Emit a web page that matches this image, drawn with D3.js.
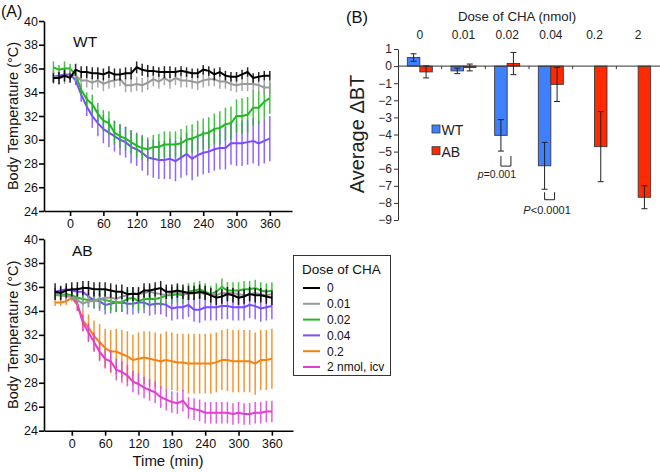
<!DOCTYPE html>
<html><head><meta charset="utf-8">
<script src="https://cdn.jsdelivr.net/npm/d3@7"></script>
<style>
body{margin:0;background:#fff;}
svg{display:block;font-family:"Liberation Sans",Arial,Helvetica,sans-serif;}
</style></head>
<body><svg id="c" width="660" height="472"></svg>
<script>
// ---------------- DATA ----------------
const times = [-30,-20,-10,0,10,20,30,40,50,60,70,80,90,100,110,120,130,140,150,160,170,180,190,200,210,220,230,240,250,260,270,280,290,300,310,320,330,340,350,360];
const doses = ["0","0.01","0.02","0.04","0.2","2 nmol, icv"];
const doseColors = ["#000000","#999999","#22b822","#7a4cff","#f5820f","#e03ed2"];
const xTicks = [0,60,120,180,240,300,360];
const yTicks = [24,26,28,30,32,34,36,38,40];

// WT panel
const wt_0   = [35.2,35.2,35.4,35.2, 35.9,35.7,35.7,35.6,35.6,35.5,35.7,35.5,35.5,35.6, 35.6,36.1,35.9,35.8,35.8,35.7,35.7,35.7,35.7,35.8, 35.7,35.6,35.6,35.9,35.8,35.5,35.7,35.4,35.3,35.3, 35.5,35.7,35.2,35.3,35.4,35.4];
const wt_0e  = [0.4,0.5,0.5,0.4, 0.5,0.5,0.5,0.5,0.5,0.5,0.5,0.5,0.5,0.5, 0.5,0.5,0.5,0.5,0.4,0.4,0.5,0.5,0.4,0.4, 0.4,0.4,0.4,0.4,0.4,0.5,0.4,0.4,0.4,0.4, 0.4,0.4,0.4,0.4,0.4,0.4];
const wt_001 = [35.3,35.2,35.3,35.5, 35.4,35.0,35.0,34.8,35.0,34.7,34.9,35.0,35.1,34.6, 34.6,34.7,34.6,34.8,35.1,34.9,35.2,34.9,35.2,35.0, 35.0,34.9,34.8,35.0,35.1,35.1,34.9,34.9,34.7,34.6, 34.7,34.7,34.7,34.6,34.4,34.4];
const wt_001e= [0.6,0.6,0.6,0.5, 0.5,0.6,0.6,0.6,0.6,0.6,0.6,0.6,0.6,0.6, 0.6,0.6,0.6,0.6,0.6,0.6,0.6,0.6,0.6,0.6, 0.6,0.6,0.6,0.6,0.6,0.6,0.6,0.6,0.6,0.6, 0.6,0.6,0.6,0.6,0.6,0.6];
const wt_002 = [36.1,35.9,36.0,36.0, 35.5,34.2,33.4,33.0,32.2,31.6,31.4,30.6,30.3,30.1, 29.8,29.5,29.3,29.2,29.4,29.4,29.6,29.6,29.6,29.7, 30.0,30.1,30.3,30.5,30.6,30.9,31.0,31.3,31.4,32.0, 32.0,32.1,32.7,32.7,33.2,33.5];
const wt_002e= [0.5,0.4,0.6,0.4, 0.4,0.5,0.6,0.8,0.9,0.9,1.0,1.0,1.0,1.0, 1.0,1.0,1.0,1.0,1.0,1.1,1.1,1.1,1.1,1.2, 1.2,1.2,1.3,1.3,1.3,1.3,1.4,1.4,1.4,1.4, 1.5,1.5,1.5,1.4,1.4,1.3];
const wt_004 = [35.3,35.4,35.5,35.5, 35.0,33.8,32.8,32.0,31.4,30.9,30.6,30.3,30.0,29.8, 29.4,29.2,28.9,28.5,28.4,28.3,28.3,28.4,28.2,28.5, 28.8,28.4,28.7,28.9,29.0,29.2,29.3,29.3,29.7,29.7, 29.7,29.8,29.9,29.7,29.9,30.1];
const wt_004e= [0.4,0.3,0.3,0.3, 0.4,0.6,0.8,1.0,1.1,1.2,1.2,1.3,1.3,1.3, 1.4,1.4,1.5,1.5,1.6,1.6,1.6,1.7,1.7,1.7, 1.8,1.8,1.8,1.8,1.8,1.8,1.8,1.8,1.8,1.9, 1.9,1.9,1.9,1.9,1.9,1.9];

// AB panel
const ab_0   = [35.6,35.5,35.7,35.8, 35.8,35.9,35.9,35.8,35.8,35.8,35.7,35.6,35.6,35.4, 35.4,35.4,35.7,35.7,35.8,35.9,35.6,35.6,35.7,35.6, 35.5,35.5,35.6,35.5,35.3,35.1,35.2,35.4,35.3,35.1, 35.2,35.4,35.3,35.3,35.2,35.1];
const ab_0e  = [0.7,0.6,0.6,0.6, 0.6,0.6,0.6,0.6,0.6,0.6,0.6,0.6,0.6,0.6, 0.6,0.6,0.6,0.6,0.6,0.6,0.6,0.6,0.6,0.6, 0.6,0.6,0.6,0.6,0.6,0.6,0.6,0.6,0.6,0.6, 0.6,0.6,0.6,0.6,0.6,0.6];
const ab_001 = [35.4,35.3,35.2,35.2, 34.9,34.6,34.8,34.8,35.0,35.1,35.1,35.0,35.2,35.3, 35.5,35.4,35.5,35.6,35.5,35.4,35.3,35.5,35.6,35.4, 35.4,35.5,35.5,35.4,35.4,35.3,35.5,35.5,35.5,35.4, 35.3,35.4,35.5,35.4,35.3,35.4];
const ab_001e= [0.4,0.4,0.4,0.4, 0.5,0.5,0.5,0.5,0.6,0.5,0.5,0.5,0.5,0.5, 0.5,0.5,0.5,0.5,0.5,0.5,0.5,0.5,0.5,0.5, 0.5,0.5,0.5,0.5,0.5,0.5,0.5,0.5,0.5,0.5, 0.5,0.5,0.5,0.5,0.5,0.5];
const ab_002 = [35.3,35.3,35.4,35.3, 35.1,35.0,34.9,34.9,35.0,34.9,34.8,34.7,34.7,35.0, 35.1,34.8,35.0,35.0,35.0,35.1,35.3,35.3,35.4,35.3, 35.6,35.7,35.8,35.6,35.4,35.6,36.0,35.7,35.7,35.7, 35.8,35.8,35.9,35.7,35.6,35.7];
const ab_002e= [0.3,0.3,0.3,0.3, 0.4,0.5,0.6,0.7,0.8,0.8,0.8,0.8,0.8,0.8, 0.8,0.8,0.8,0.7,0.7,0.7,0.7,0.7,0.7,0.7, 0.7,0.7,0.7,0.7,0.7,0.7,0.7,0.7,0.7,0.7, 0.7,0.7,0.7,0.7,0.7,0.7];
const ab_004 = [35.6,35.7,35.8,35.7, 35.6,35.6,35.2,34.9,34.8,34.5,34.6,34.7,34.7,34.6, 34.6,34.7,34.7,34.5,34.6,34.6,34.5,34.2,34.3,34.3, 34.5,34.1,34.1,34.3,34.3,34.3,34.4,34.4,34.3,34.3, 34.3,34.5,34.4,34.2,34.3,34.4];
const ab_004e= [0.3,0.3,0.3,0.3, 0.4,0.5,0.6,0.7,0.8,0.8,0.8,0.8,0.8,0.9, 0.9,0.9,0.9,0.9,0.9,0.9,1.0,1.0,1.0,1.0, 1.0,1.0,1.1,1.1,1.1,1.1,1.1,1.1,1.1,1.1, 1.1,1.1,1.1,1.1,1.1,1.1];
const ab_02  = [34.7,34.7,34.8,35.1, 34.5,33.2,32.6,31.9,31.4,30.9,30.6,30.6,30.4,30.2, 29.9,30.0,30.1,30.0,29.9,29.8,29.9,29.8,29.7,29.7, 29.6,29.6,29.6,29.6,29.6,29.7,29.9,29.9,29.8,29.8, 29.8,29.8,29.6,29.9,29.9,30.0];
const ab_02e = [0.3,0.3,0.3,0.2, 0.5,0.9,1.1,1.3,1.5,1.6,1.8,1.9,2.0,2.1, 2.1,2.2,2.2,2.3,2.3,2.3,2.4,2.4,2.4,2.4, 2.5,2.5,2.5,2.5,2.5,2.5,2.5,2.6,2.6,2.6, 2.6,2.6,2.6,2.5,2.5,2.5];
const ab_2   = [35.5,35.3,35.3,35.3, 34.6,33.0,32.2,31.4,30.6,30.0,29.8,29.1,28.9,28.6, 28.1,27.9,27.6,27.4,27.2,26.8,26.6,26.4,26.3,26.5, 25.9,25.8,25.7,25.5,25.5,25.5,25.5,25.5,25.4,25.5, 25.4,25.4,25.5,25.5,25.6,25.6];
const ab_2e  = [0.3,0.3,0.3,0.3, 0.6,0.7,0.8,0.8,0.8,0.8,0.9,0.9,0.9,0.9, 0.9,0.9,0.9,0.9,0.9,0.9,0.9,0.9,0.9,0.9, 0.9,0.9,0.9,0.9,0.9,0.9,0.9,0.9,0.9,0.9, 0.9,0.9,0.9,0.9,0.9,0.9];

// Panel B (bar chart)
const barCats = ["0","0.01","0.02","0.04","0.2","2"];
const barSeries = ["WT","AB"];
const barColors = ["#3f80ff","#ff2a00"];
const wtMean = [0.5,-0.28,-4.05,-5.83,null,null];
const wtErr  = [0.22,0.16,0.92,1.37,null,null];
const abMean = [-0.34,-0.08,0.15,-1.07,-4.71,-7.67];
const abErr  = [0.35,0.2,0.65,1.0,2.05,0.67];
const barYTicks = [1,0,-1,-2,-3,-4,-5,-6,-7,-8,-9];
const pLabels = [{cat:"0.02", pre:"p", txt:"=0.001"},{cat:"0.04", pre:"P", txt:"<0.0001"}];

// ---------------- DRAW ----------------
const svg = d3.select("#c");
const font = '"Liberation Sans",Arial,Helvetica,sans-serif';

function linePanel(opt){
  const g = svg.append("g");
  const x = d3.scaleLinear().domain(opt.xd).range(opt.xr);
  const y = d3.scaleLinear().domain([24,40]).range(opt.yr);
  const xa = g.append("g").attr("transform",`translate(0,${opt.yr[0]})`)
    .call(d3.axisBottom(x).tickValues(xTicks).tickSize(5).tickPadding(3).tickSizeOuter(0));
  const ya = g.append("g").attr("transform",`translate(${opt.xr[0]},0)`)
    .call(d3.axisLeft(y).tickValues(yTicks).tickSize(5).tickPadding(1).tickSizeOuter(0));
  [xa,ya].forEach(a=>{
    a.selectAll("path,line").attr("stroke","#000").attr("stroke-width",1.6);
    a.selectAll("text").attr("font-size",12.5).attr("font-family",font).attr("fill","#111");
  });
  opt.series.forEach(s=>{
    const sg = g.append("g");
    sg.selectAll("line").data(times).join("line")
      .attr("x1",(t)=>x(t)).attr("x2",(t)=>x(t))
      .attr("y1",(t,i)=>y(s.v[i]-s.e[i])).attr("y2",(t,i)=>y(s.v[i]+s.e[i]))
      .attr("stroke",s.c).attr("stroke-width",1.5).attr("stroke-opacity",0.85);
    sg.append("path").datum(times)
      .attr("d",d3.line().x(t=>x(t)).y((t,i)=>y(s.v[i])))
      .attr("fill","none").attr("stroke",s.c).attr("stroke-width",2);
  });
  g.append("text").attr("x",opt.lx).attr("y",opt.ly).text(opt.label)
    .attr("font-size",15.5).attr("font-family",font).attr("fill","#111");
  const cy = (opt.yr[0]+opt.yr[1])/2;
  g.append("text").attr("transform",`translate(17.5,${cy}) rotate(-90)`)
    .attr("text-anchor","middle").text("Body Temperature (°C)")
    .attr("font-size",14.5).attr("font-family",font).attr("fill","#111");
}

linePanel({xd:[-47,400], xr:[44,292], yr:[211,21], label:"WT", lx:73, ly:47,
  series:[
    {v:wt_004,e:wt_004e,c:doseColors[3]},
    {v:wt_002,e:wt_002e,c:doseColors[2]},
    {v:wt_001,e:wt_001e,c:doseColors[1]},
    {v:wt_0,e:wt_0e,c:doseColors[0]}
  ]});
linePanel({xd:[-50,398], xr:[44,293], yr:[430.7,239], label:"AB", lx:72, ly:256,
  series:[
    {v:ab_02,e:ab_02e,c:doseColors[4]},
    {v:ab_2,e:ab_2e,c:doseColors[5]},
    {v:ab_004,e:ab_004e,c:doseColors[3]},
    {v:ab_002,e:ab_002e,c:doseColors[2]},
    {v:ab_001,e:ab_001e,c:doseColors[1]},
    {v:ab_0,e:ab_0e,c:doseColors[0]}
  ]});

svg.append("text").attr("x",168).attr("y",466).attr("text-anchor","middle")
  .text("Time (min)").attr("font-size",15).attr("font-family",font).attr("fill","#111");
svg.append("text").attr("x",1).attr("y",17).text("(A)")
  .attr("font-size",16).attr("font-family",font).attr("fill","#111");

// legend of doses
const lg = svg.append("g");
lg.append("rect").attr("x",293.5).attr("y",255.5).attr("width",97).attr("height",120)
  .attr("fill","#fff").attr("stroke","#333").attr("stroke-width",1);
lg.append("text").attr("x",302).attr("y",274).text("Dose of CHA")
  .attr("font-size",13.5).attr("font-family",font).attr("fill","#111");
doses.forEach((d,i)=>{
  const yy = 288 + i*15.8;
  lg.append("line").attr("x1",303).attr("x2",320).attr("y1",yy).attr("y2",yy)
    .attr("stroke",doseColors[i]).attr("stroke-width",2);
  lg.append("text").attr("x",327).attr("y",yy+4.3).text(d)
    .attr("font-size",12).attr("font-family",font).attr("fill","#111");
});

// ---------------- Panel B ----------------
const bx = d3.scaleBand().domain(barCats).range([398,660]).padding(0);
const by = d3.scaleLinear().domain([-9,1]).range([220,49]);
const bw = 12.5;
const bg = svg.append("g");

// y axis
const bya = bg.append("g").attr("transform","translate(398,0)")
  .call(d3.axisLeft(by).tickValues(barYTicks).tickSize(4).tickPadding(2).tickSizeOuter(0));
bya.selectAll("path,line").attr("stroke","#333").attr("stroke-width",1);
bya.selectAll("text").attr("font-size",12).attr("font-family",font).attr("fill","#222");

// bars
const barData = [];
barCats.forEach((c,i)=>{
  if(wtMean[i]!==null) barData.push({c, s:0, m:wtMean[i], e:wtErr[i]});
  barData.push({c, s:1, m:abMean[i], e:abErr[i]});
});
const bxPos = d => bx(d.c) + bx.bandwidth()/2 + (d.s===0 ? -bw : 0);
bg.selectAll("rect.bar").data(barData).join("rect").attr("class","bar")
  .attr("x",bxPos).attr("width",bw)
  .attr("y",d=>by(Math.max(0,d.m))).attr("height",d=>Math.abs(by(d.m)-by(0)))
  .attr("fill",d=>barColors[d.s]).attr("stroke","#3a3a3a").attr("stroke-width",0.9);

// zero line with ticks
bg.append("line").attr("x1",398).attr("x2",660).attr("y1",by(0)).attr("y2",by(0))
  .attr("stroke","#333").attr("stroke-width",1);
barCats.slice(1).forEach(c=>{
  bg.append("line").attr("x1",bx(c)).attr("x2",bx(c)).attr("y1",by(0)).attr("y2",by(0)+3)
    .attr("stroke","#333").attr("stroke-width",1);
});

// error bars
const eb = bg.selectAll("g.eb").data(barData).join("g").attr("class","eb");
eb.append("line").attr("x1",d=>bxPos(d)+bw/2).attr("x2",d=>bxPos(d)+bw/2)
  .attr("y1",d=>by(d.m+d.e)).attr("y2",d=>by(d.m-d.e)).attr("stroke","#222").attr("stroke-width",1);
[1,-1].forEach(sg=>{
  eb.append("line").attr("x1",d=>bxPos(d)+bw/2-3).attr("x2",d=>bxPos(d)+bw/2+3)
    .attr("y1",d=>by(d.m+sg*d.e)).attr("y2",d=>by(d.m+sg*d.e)).attr("stroke","#222").attr("stroke-width",1);
});

// category labels + title
barCats.forEach(c=>{
  bg.append("text").attr("x",bx(c)+bx.bandwidth()/2).attr("y",39).attr("text-anchor","middle")
    .text(c).attr("font-size",12).attr("font-family",font).attr("fill","#222");
});
bg.append("text").attr("x",517).attr("y",21).attr("text-anchor","middle")
  .text("Dose of CHA (nmol)").attr("font-size",13.3).attr("font-family",font).attr("fill","#222");
bg.append("text").attr("x",346).attr("y",23).text("(B)")
  .attr("font-size",16.5).attr("font-family",font).attr("fill","#111");
bg.append("text").attr("transform","translate(364,134) rotate(-90)").attr("text-anchor","middle")
  .text("Average ΔBT").attr("font-size",20).attr("font-family",font).attr("fill","#222");

// WT/AB legend
barSeries.forEach((s,i)=>{
  const yy = 125 + i*21.7;
  bg.append("rect").attr("x",432).attr("y",yy).attr("width",8).attr("height",8)
    .attr("fill",barColors[i]).attr("stroke","#333").attr("stroke-width",0.8);
  bg.append("text").attr("x",441.5).attr("y",yy+10).text(s)
    .attr("font-size",14).attr("font-family",font).attr("fill","#222");
});

// p-value brackets
pLabels.forEach((p,k)=>{
  const i = barCats.indexOf(p.cat);
  const xc = bx(p.cat) + bx.bandwidth()/2 - bw/2;
  const top = by(wtMean[i]-wtErr[i]) + (k===0 ? 5 : 3);
  const bot = top + (k===0 ? 10 : 7.5);
  bg.append("path").attr("d",`M${xc},${top}V${bot}H${xc+10}V${top}`)
    .attr("fill","none").attr("stroke","#222").attr("stroke-width",1);
  const t = bg.append("text").attr("x",xc + (k===0 ? -4 : 2.5)).attr("y",bot+(k===0?12:14))
    .attr("text-anchor","middle").attr("font-size",k===0?10.5:11).attr("font-family",font).attr("fill","#222");
  t.append("tspan").attr("font-style","italic").text(p.pre);
  t.append("tspan").text(p.txt);
});
</script>
</body></html>
